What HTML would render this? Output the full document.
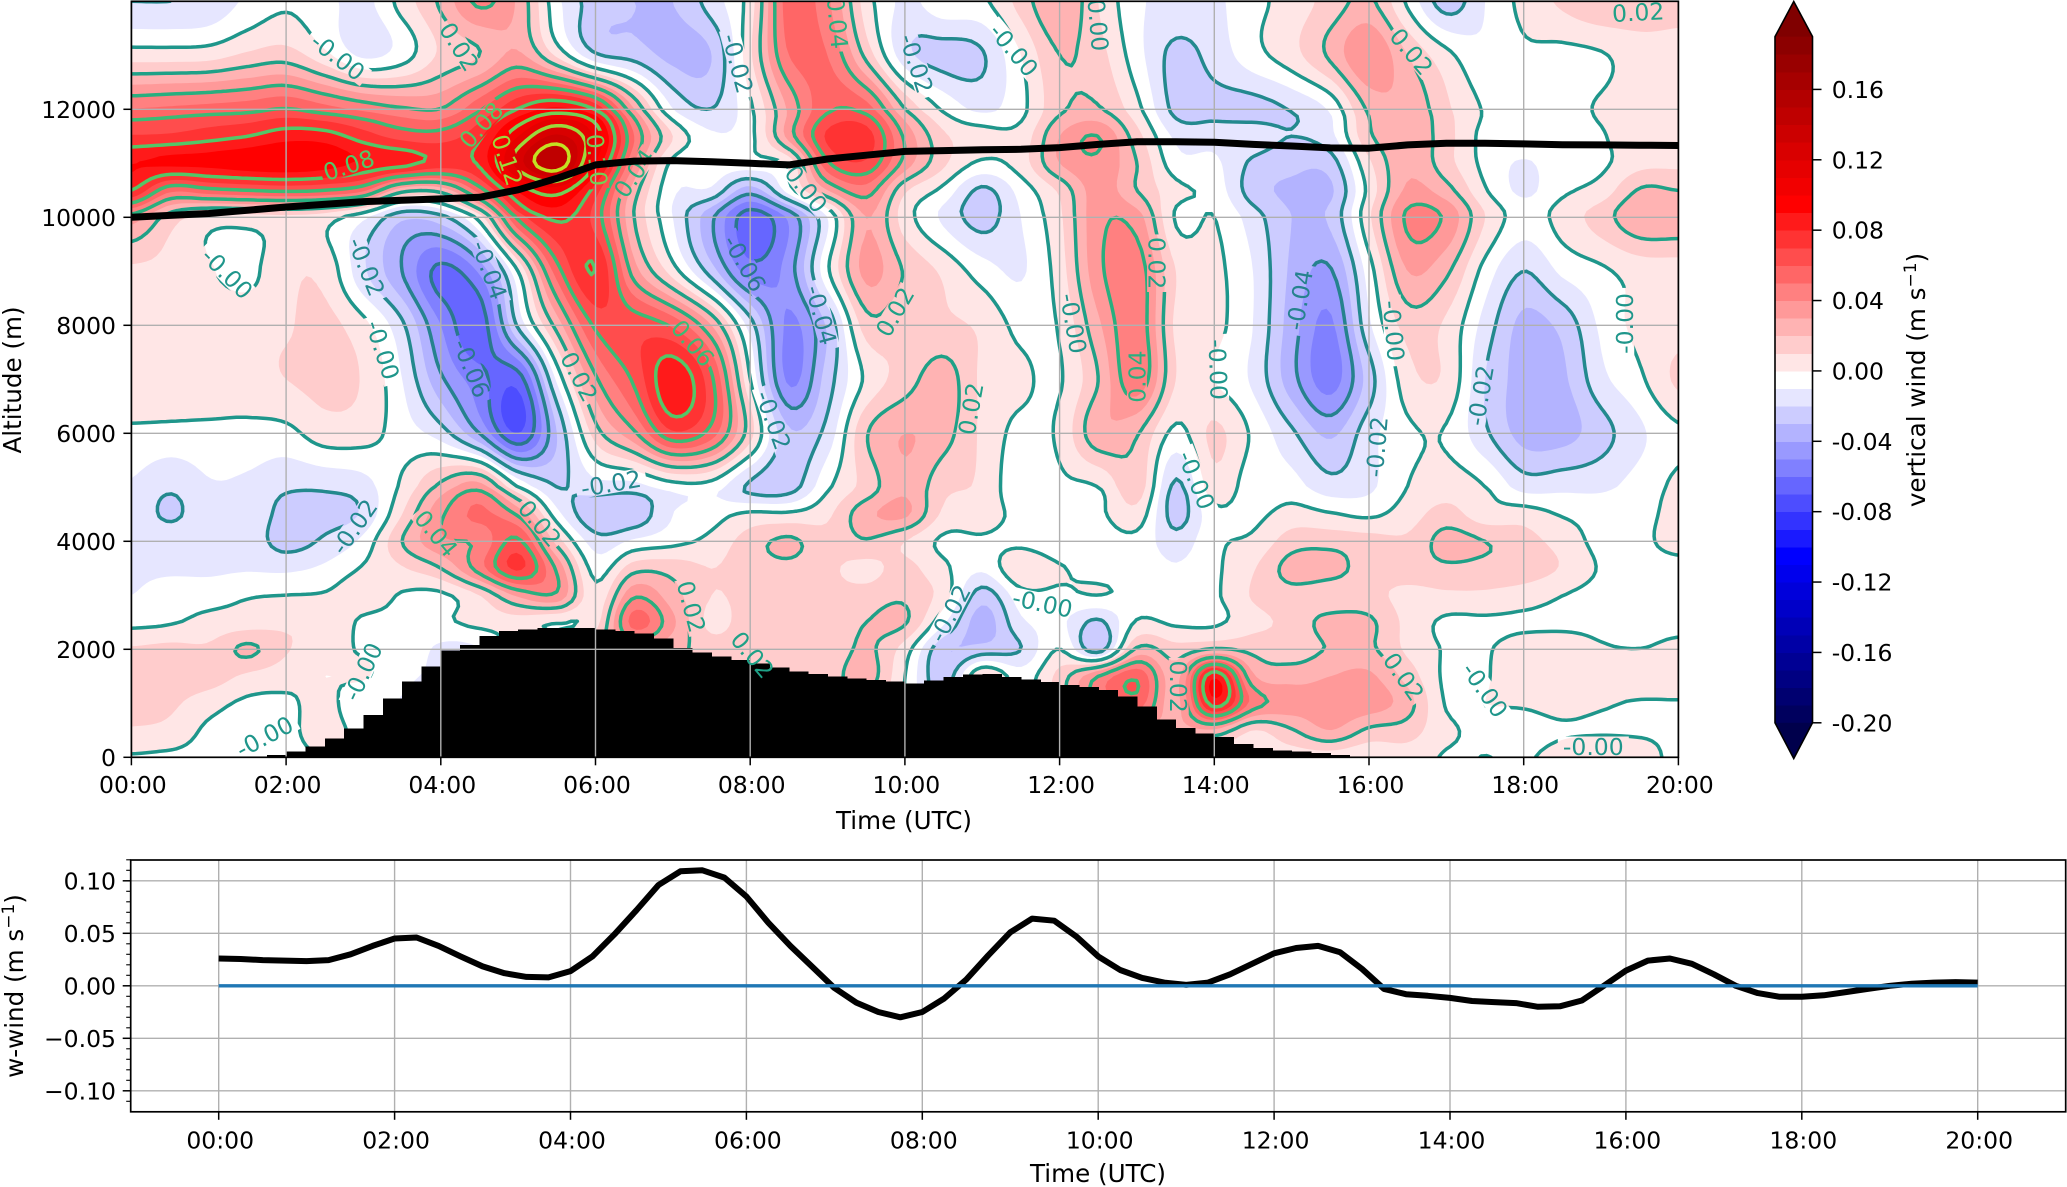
<!DOCTYPE html>
<html lang="en">
<head>
<meta charset="utf-8">
<title>Vertical wind time-height section</title>
<style>
html,body{margin:0;padding:0;background:#fff;}
svg{display:block;}
text{font-family:"DejaVu Sans","Liberation Sans",sans-serif;font-size:23.5px;fill:#000;}
text.axis-title{font-size:24.6px;}
</style>
</head>
<body>
<svg id="figure" xmlns="http://www.w3.org/2000/svg" width="2067" height="1187" viewBox="0 0 2067 1187">
  <defs>
    <clipPath id="main-clip"><rect x="131.4" y="1.3" width="1547" height="756"></rect></clipPath>
    <mask id="label-gaps" maskUnits="userSpaceOnUse" x="0" y="0" width="2067" height="1187">
      <rect x="0" y="0" width="2067" height="1187" fill="#fff"></rect>
      <g id="label-gap-rects"></g>
    </mask>
  </defs>
  <g clip-path="url(#main-clip)">
    <g id="main-fills"></g>
    <g id="main-lines" mask="url(#label-gaps)" fill="none" stroke-width="3.5" stroke-linecap="round"></g>
    <g id="main-terrain" shape-rendering="crispEdges"></g>
    <g id="main-grid"></g>
    <g id="main-labels"></g>
    <path id="flight-path" fill="none" stroke="#000" stroke-width="7" stroke-linejoin="round"></path>
  </g>
  <rect x="131.4" y="1.3" width="1547" height="756" fill="none" stroke="#000" stroke-width="1.7"></rect>
  <g id="main-ticks"></g>
  <text class="axis-title" x="904" y="829" text-anchor="middle">Time (UTC)</text>
  <text class="axis-title" transform="translate(21,380) rotate(-90)" text-anchor="middle">Altitude (m)</text>

  <g id="colorbar"></g>
  <text class="axis-title" transform="translate(1925,380) rotate(-90)" text-anchor="middle">vertical wind (m s<tspan dy="-9" font-size="17">−1</tspan><tspan dy="9">)</tspan></text>

  <g id="lower-grid"></g>
  <path id="lower-series" fill="none" stroke="#000" stroke-width="6" stroke-linejoin="round"></path>
  <path id="lower-zero" fill="none" stroke="#1f77b4" stroke-width="3.3"></path>
  <rect x="130.7" y="860" width="1935" height="251.8" fill="none" stroke="#000" stroke-width="1.7"></rect>
  <g id="lower-ticks"></g>
  <text class="axis-title" x="1098" y="1182" text-anchor="middle">Time (UTC)</text>
  <text class="axis-title" transform="translate(23,986) rotate(-90)" text-anchor="middle">w-wind (m s<tspan dy="-9" font-size="17">−1</tspan><tspan dy="9">)</tspan></text>
</svg>
<script>
// ---------- data ----------
var fieldHours = [0,0.5,1,1.5,2,2.5,3,3.5,4,4.5,5,5.5,6,6.5,7,7.5,8,8.5,9,9.5,10,10.5,11,11.5,12,12.5,13,13.5,14,14.5,15,15.5,16,16.5,17,17.5,18,18.5,19,19.5,20];
var fieldAltitudes = [14000,13000,12000,11500,11000,10500,10000,9000,8000,7000,6000,5000,4500,4000,3500,3000,2500,2000,1500,1000,500,0];
// vertical wind in 0.001 m/s, one row per altitude above
var windRows = [
[-20,-20,-18,-8,-2,-7,-13,4,22,42,28,-7,-25,-30,-30,-15,5,55,42,5,-12,-3,-2,14,30,10,-8,-12,-12,-3,4,14,22,-2,-25,-10,3,12,19,17,14],
[5,5,6,12,15,3,-12,-5,12,20,32,8,-18,-24,-33,-30,8,50,50,17,-16,-24,-21,0,20,14,-6,-23,-16,-4,6,22,40,20,3,-8,-2,-3,-1,5,6],
[50,52,54,56,60,54,47,41,40,58,80,92,78,30,-10,-20,-2,32,58,55,20,-2,-12,-3,18,21,3,-23,-23,-24,-19,-8,22,28,12,-1,-3,-3,1,6,7],
[71,72,76,80,86,85,75,66,65,78,110,132,108,50,10,-8,-3,34,72,75,38,12,5,4,30,40,14,-12,-14,-14,-20,-13,18,28,14,-3,-3,-3,-1,7,8],
[90,92,93,96,98,95,88,84,76,82,125,148,100,40,-3,-5,-4,3,58,68,36,12,-2,5,30,38,20,-6,-8,-22,-27,-25,8,28,14,-3,-11,-4,-2,7,8],
[80,53,57,60,62,60,52,24,24,55,92,105,75,25,-8,-12,-35,-5,30,45,12,-3,-22,-6,12,35,20,3,-4,-25,-32,-32,3,32,24,1,-12,-2,4,21,20],
[35,15,5,5,7,4,-8,-28,-24,4,62,82,66,20,-10,-38,-66,-48,-10,30,5,-12,-24,-10,8,37,35,-1,0,-15,-30,-28,8,42,38,10,-5,4,15,28,28],
[8,7,1,-3,8,7,-18,-40,-63,-48,0,55,80,35,5,-25,-55,-45,-2,33,19,8,-5,-11,5,37,46,10,3,-10,-32,-41,-5,30,22,-4,-20,-8,-2,4,5],
[10,8,8,7,9,13,3,-18,-50,-66,-18,24,62,66,58,30,-15,-52,-28,15,12,12,8,-3,1,28,47,8,3,-10,-35,-52,-12,14,8,-14,-33,-27,-8,3,6],
[8,8,8,6,10,13,9,-10,-38,-56,-65,-8,38,62,88,62,0,-52,-25,2,15,25,8,2,-1,20,47,10,0,-12,-36,-55,-25,6,8,-20,-34,-32,-13,-2,12],
[-2,-3,-3,-3,-3,5,4,-5,-15,-40,-70,-30,15,38,68,55,14,-28,-16,19,30,24,8,-3,2,27,21,-3,12,-2,-18,-32,-14,-2,-1,-18,-34,-34,-24,-12,-2],
[-11,-18,-11,-12,-18,-18,-14,2,23,35,0,-20,-14,-14,-5,-5,-22,-25,-2,14,28,13,8,-8,-2,0,16,-22,6,-6,-6,-16,-12,0,5,0,-14,-13,-12,-6,2],
[-12,-22,-12,-12,-24,-24,-18,10,38,52,38,-6,-28,-27,-10,-4,2,2,8,27,32,8,5,-3,-2,-2,6,-24,-3,-3,4,1,-2,5,14,4,5,-1,-4,-3,3],
[-12,-12,-12,-14,-24,-18,-7,20,38,42,62,16,-15,-8,-3,3,15,22,13,19,10,-2,-2,-3,-8,-5,-3,-16,-2,2,15,16,14,12,24,20,14,6,-3,-2,3],
[-12,-12,-12,-11,-12,-8,1,9,20,45,72,38,-4,16,16,10,15,17,12,7,13,2,-8,9,1,-4,-3,-9,-2,9,24,25,14,15,18,17,16,9,-1,-3,-3],
[-10,-4,-4,-1,0,1,6,-1,-2,10,32,38,3,38,24,10,13,11,12,14,18,5,-25,-4,-2,0,-3,-9,-2,11,16,12,13,7,8,8,5,0,-3,-3,-3],
[-3,-1,3,5,8,9,-2,-2,-2,3,5,0,6,54,32,7,16,15,12,20,21,-8,-35,-12,-8,-22,1,-2,-2,7,13,24,22,7,-2,-2,-2,-2,-2,-2,-2],
[11,13,12,22,11,4,-1,-2,-12,-10,5,10,20,30,24,15,17,15,12,22,5,-28,-26,-20,0,-25,22,14,21,17,14,21,22,8,-1,-1,5,5,1,0,2],
[12,15,15,8,4,0,1,-8,-10,0,5,10,20,20,20,15,15,15,15,25,0,-26,10,-5,14,40,58,26,88,32,26,30,32,16,-2,-1,8,8,7,7,8],
[14,12,4,-2,-2,3,-8,-10,-10,0,5,10,15,15,15,15,15,15,15,15,0,-20,5,-5,14,40,55,26,85,46,36,36,36,24,-1,0,1,3,1,-1,-1],
[9,7,-2,-3,-2,3,-3,-5,-5,0,5,5,5,5,5,5,5,5,5,5,0,-5,0,0,5,20,25,25,28,10,19,30,18,15,2,-2,-3,-1,-1,-1,-1],
[-1,-2,-3,-3,-2,0,0,0,0,0,0,0,0,0,0,0,0,0,0,0,0,0,0,0,0,0,0,0,0,5,5,5,2,5,-1,0,-1,3,6,3,-2]
];
var contourLevels = [-0.06,-0.04,-0.02,0,0.02,0.04,0.06,0.08,0.10,0.12,0.14];
// terrain height (m) for each quarter hour from 00:00
var terrainHeights = [0,0,0,0,0,0,0,40,105,197,352,537,784,1093,1401,1679,1975,2080,2247,2340,2370,2390,2390,2390,2370,2340,2290,2200,2020,1940,1870,1800,1740,1660,1590,1540,1500,1460,1430,1400,1370,1420,1490,1530,1540,1490,1445,1390,1340,1300,1250,1130,940,700,540,440,380,250,170,130,105,80,45,15,0];
var flightHours = [0,1,2,3,4,4.5,5,5.5,6,6.5,7,7.5,8,8.5,9,9.5,10,10.5,11,11.5,12,12.5,13,13.5,14,14.5,15,15.5,16,16.5,17,17.5,18,18.5,19,19.5,20];
var flightAltitudes = [10000,10070,10190,10290,10340,10370,10510,10720,10970,11040,11050,11030,11000,10970,11080,11150,11220,11235,11250,11260,11290,11350,11400,11400,11390,11350,11320,11285,11280,11340,11370,11370,11360,11345,11340,11335,11330];
// quarter-hourly w-wind for the lower panel
var lowerWind = [0.026,0.0255,0.0245,0.024,0.0235,0.0245,0.030,0.038,0.045,0.046,0.038,0.028,0.0185,0.012,0.0085,0.008,0.014,0.028,0.049,0.072,0.096,0.109,0.110,0.103,0.085,0.060,0.038,0.018,-0.002,-0.016,-0.025,-0.030,-0.025,-0.012,0.006,0.029,0.051,0.064,0.062,0.047,0.028,0.015,0.0075,0.003,0.001,0.003,0.011,0.021,0.031,0.036,0.038,0.032,0.016,-0.003,-0.008,-0.0095,-0.0115,-0.0145,-0.0155,-0.0165,-0.020,-0.0195,-0.014,0,0.0145,0.024,0.026,0.021,0.011,0,-0.007,-0.0105,-0.0105,-0.009,-0.006,-0.003,0,0.002,0.003,0.0035,0.003];
var timeTicks = ["00:00","02:00","04:00","06:00","08:00","10:00","12:00","14:00","16:00","18:00","20:00"];
var altitudeTicks = [0,2000,4000,6000,8000,10000,12000];
var colorbarTicks = ["0.16","0.12","0.08","0.04","0.00","-0.04","-0.08","-0.12","-0.16","-0.20"];
var lowerYTicks = ["0.10","0.05","0.00","−0.05","−0.10"];
// contour labels: hour, altitude, text
var labelHours =  [2.67,4.24,1.24,3.04,4.63,3.25,4.40,5.79,2.81,4.52,4.86,6.02,6.50,2.88,3.94,5.28,6.20,1.72,2.99,7.84,10.15,9.13,11.41,12.5,8.69,7.93,8.92,7.26,9.87,13.26,12.18,13.0,14.05,8.3,7.24,10.85,13.77,10.58,11.78,8.03,13.54,16.55,15.1,16.32,19.3,19.48,17.44,16.1,16.45,17.5,18.9];
var labelAlts =   [12975,13160,8963,9086,9025,7543,7204,7050,10969,11710,11062,11062,10815,4272,4148,4333,5074,383,1586,12850,12850,13600,13100,13560,10590,9150,8190,7670,8250,9150,8035,7050,7180,6245,2790,6455,5135,2667,2852,1900,1309,13070,8470,7900,8035,13800,6700,5750,1494,1250,200];
var labelTexts =  ["-0.00","0.02","-0.00","-0.02","-0.04","-0.00","-0.06","0.02","0.08","0.08","0.12","0.10","0.04","-0.02","0.04","0.02","-0.02","-0.00","-0.00","-0.02","-0.02","0.04","-0.00","0.00","-0.00","-0.06","-0.04","0.06","0.02","0.02","-0.00","0.04","-0.00","-0.02","0.02","0.02","-0.00","-0.02","-0.00","0.02","0.02","0.02","-0.04","-0.00","-0.00","0.02","-0.02","-0.02","0.02","-0.00","-0.00"];
var labelAngles = [38,58,45,68,70,72,68,62,-18,-48,72,85,-55,-55,50,50,-10,-28,-65,75,72,85,50,85,52,60,75,50,-60,90,80,-90,88,70,75,-80,68,-62,12,50,90,50,-80,85,-90,-3,-80,-85,55,55,0];

// ---------- axis functions ----------
var SVGNS = "http://www.w3.org/2000/svg";
function xMain(h){return 131.4+h*77.35;}
function yMain(a){return 757.3-a*0.054;}
function xLow(h){return 218.7+h*87.95;}
function yLow(v){return 985.8-v*1050;}
function yBar(v){return 722.8-(v+0.20)*1759.4;}
function mk(tag,parent,attrs,text){
  var e=document.createElementNS(SVGNS,tag);
  for(var k in attrs){e.setAttribute(k,attrs[k]);}
  if(text!==undefined){e.textContent=text;}
  parent.appendChild(e);
  return e;
}
function $(id){return document.getElementById(id);}

// ---------- interpolation onto a fine grid ----------
function cr(p0,p1,p2,p3,t){
  return 0.5*((2*p1)+(-p0+p2)*t+(2*p0-5*p1+4*p2-p3)*t*t+(-p0+3*p1-3*p2+p3)*t*t*t);
}
function altIndex(a){
  for(var i=0;i<fieldAltitudes.length-1;i++){
    if(a>=fieldAltitudes[i+1]){
      return i+(fieldAltitudes[i]-a)/(fieldAltitudes[i]-fieldAltitudes[i+1]);
    }
  }
  return fieldAltitudes.length-1;
}
function colAt(row,fx){
  var n=row.length,i=Math.min(Math.floor(fx),n-2),t=fx-i;
  return cr(row[Math.max(i-1,0)],row[i],row[i+1],row[Math.min(i+2,n-1)],t);
}
var STEP=5,nx=Math.ceil(1547/STEP)+1,ny=Math.ceil(756/STEP)+1,grid=[],gx=[],gy=[];
(function(){
  var ix,iy;
  for(ix=0;ix<nx;ix++){gx.push(131.4+Math.min(ix*STEP,1547));}
  for(iy=0;iy<ny;iy++){gy.push(1.3+Math.min(iy*STEP,756));}
  var hStep=fieldHours[1]-fieldHours[0];
  for(iy=0;iy<ny;iy++){
    var a=(757.3-gy[iy])/0.054,f=altIndex(a),m=fieldAltitudes.length;
    var i=Math.min(Math.floor(f),m-2),t=f-i;
    var r0=windRows[Math.max(i-1,0)],r1=windRows[i],r2=windRows[i+1],r3=windRows[Math.min(i+2,m-1)];
    var line=[];
    for(ix=0;ix<nx;ix++){
      var h=(gx[ix]-131.4)/77.35,fx=Math.min(h/hStep,fieldHours.length-1);
      line.push(cr(colAt(r0,fx),colAt(r1,fx),colAt(r2,fx),colAt(r3,fx),t)/1000);
    }
    grid.push(line);
  }
})();

// ---------- colours ----------
function bandColor(k){ // band [k,k+1)*0.01
  var n,c;
  if(k>=0){
    n=k+1;
    if(n<=10){c=Math.round(255-25.5*n);return "rgb(255,"+c+","+c+")";}
    return "rgb("+Math.round(255-12.75*(n-10))+",0,0)";
  }
  n=-k-1;
  if(n===0){return "rgb(255,255,255)";}
  if(n<=10){c=Math.round(255-25.5*n);return "rgb("+c+","+c+",255)";}
  return "rgb(0,0,"+Math.round(255-17.9*(n-10))+")";
}
function lineColor(v){
  var lv=Math.round(v*100);
  if(lv<=-6){return "#2a788e";}
  if(lv===-4){return "#26828e";}
  if(lv===-2){return "#23898e";}
  if(lv===0){return "#1f968b";}
  if(lv===2){return "#1fa187";}
  if(lv===4){return "#29af7f";}
  if(lv===6){return "#3cbb75";}
  if(lv===8){return "#55c667";}
  if(lv===10){return "#73d055";}
  if(lv===12){return "#9bd93c";}
  return "#c4e022";
}

// ---------- marching squares ----------
function regionPath(level,sign){
  var out=[],iy,ix;
  function ins(v){return sign*(v-level)>=0;}
  for(iy=0;iy<ny-1;iy++){
    var x0=gx,runStart=-1,ya=gy[iy],yb=gy[iy+1];
    for(ix=0;ix<nx-1;ix++){
      var a=grid[iy][ix],b=grid[iy][ix+1],c=grid[iy+1][ix+1],d=grid[iy+1][ix];
      var ia=ins(a),ib=ins(b),ic=ins(c),id=ins(d);
      if(ia&&ib&&ic&&id){
        if(runStart<0){runStart=ix;}
        continue;
      }
      if(runStart>=0){
        out.push("M"+x0[runStart].toFixed(1)+" "+ya.toFixed(1)+"H"+x0[ix].toFixed(1)+"V"+yb.toFixed(1)+"H"+x0[runStart].toFixed(1)+"Z");
        runStart=-1;
      }
      if(!ia&&!ib&&!ic&&!id){continue;}
      var xa=x0[ix],xb=x0[ix+1];
      var pts=[[xa,ya,a,ia],[xb,ya,b,ib],[xb,yb,c,ic],[xa,yb,d,id]],poly=[];
      for(var q=0;q<4;q++){
        var p=pts[q],r=pts[(q+1)%4];
        if(p[3]){poly.push(p[0].toFixed(1)+" "+p[1].toFixed(1));}
        if(p[3]!==r[3]){
          var t=(level-p[2])/(r[2]-p[2]);
          poly.push((p[0]+(r[0]-p[0])*t).toFixed(1)+" "+(p[1]+(r[1]-p[1])*t).toFixed(1));
        }
      }
      out.push("M"+poly.join("L")+"Z");
    }
    if(runStart>=0){
      out.push("M"+x0[runStart].toFixed(1)+" "+ya.toFixed(1)+"H"+x0[nx-1].toFixed(1)+"V"+yb.toFixed(1)+"H"+x0[runStart].toFixed(1)+"Z");
    }
  }
  return out.join("");
}
function linePath(level){
  var out=[],iy,ix;
  for(iy=0;iy<ny-1;iy++){
    for(ix=0;ix<nx-1;ix++){
      var a=grid[iy][ix],b=grid[iy][ix+1],c=grid[iy+1][ix+1],d=grid[iy+1][ix];
      var ia=a>=level,ib=b>=level,ic=c>=level,id=d>=level;
      if(ia===ib&&ib===ic&&ic===id){continue;}
      var xa=gx[ix],xb=gx[ix+1],ya=gy[iy],yb=gy[iy+1],cr_=[];
      if(ia!==ib){cr_.push([xa+(xb-xa)*(level-a)/(b-a),ya]);}
      if(ib!==ic){cr_.push([xb,ya+(yb-ya)*(level-b)/(c-b)]);}
      if(ic!==id){cr_.push([xb+(xa-xb)*(level-c)/(d-c),yb]);}
      if(id!==ia){cr_.push([xa,yb+(ya-yb)*(level-d)/(a-d)]);}
      for(var s=0;s+1<cr_.length;s+=2){
        out.push("M"+cr_[s][0].toFixed(1)+" "+cr_[s][1].toFixed(1)+"L"+cr_[s+1][0].toFixed(1)+" "+cr_[s+1][1].toFixed(1));
      }
    }
  }
  return out.join("");
}

// ---------- filled contours ----------
(function(){
  var g=$("main-fills"),k,d,node;
  for(k=0;k<=18;k++){
    d=regionPath(k*0.01,1);
    if(!d){continue;}
    node=mk("path",g,{d:d,fill:bandColor(k)});
    
    
  }
  for(k=1;k<=19;k++){
    d=regionPath(-k*0.01,-1);
    if(!d){continue;}
    node=mk("path",g,{d:d,fill:bandColor(-k-1)});
    
    
  }
  var lg=$("main-lines");
  contourLevels.forEach(function(lv){
    var dl=linePath(lv+(lv===0?-0.0001:0));
    if(!dl){return;}
    var n=mk("path",lg,{d:dl,stroke:lineColor(lv)});
    
    
  });
})();

// ---------- terrain ----------
terrainHeights.forEach(function(hgt,i){
  if(hgt<=0){return;}
  var h0=i*0.25;
  var r=mk("rect",$("main-terrain"),{x:xMain(h0),y:yMain(hgt),width:xMain(h0+0.25)-xMain(h0)+0.5,height:yMain(0)-yMain(hgt),fill:"#000"});
  
  
});

// ---------- main grid & ticks ----------
timeTicks.forEach(function(lab,i){
  var x=xMain(i*2);
  var gl=mk("line",$("main-grid"),{x1:x,x2:x,y1:1.3,y2:757.3,stroke:"#b0b0b0","stroke-width":1.4});
  
  
  var tk=mk("line",$("main-ticks"),{x1:x,x2:x,y1:757.3,y2:765.3,stroke:"#000","stroke-width":1.5});
  
  
  var tx=mk("text",$("main-ticks"),{x:x+1.5,y:793,"text-anchor":"middle"},lab);
  
  
});
altitudeTicks.forEach(function(a){
  var y=yMain(a);
  var gl=mk("line",$("main-grid"),{x1:131.4,x2:1678.4,y1:y,y2:y,stroke:"#b0b0b0","stroke-width":1.4});
  
  
  var tk=mk("line",$("main-ticks"),{x1:123.4,x2:131.4,y1:y,y2:y,stroke:"#000","stroke-width":1.5});
  
  
  var tx=mk("text",$("main-ticks"),{x:116,y:y+8.5,"text-anchor":"end"},String(a));
  
  
});

// ---------- contour labels ----------
labelTexts.forEach(function(txt,i){
  var x=xMain(labelHours[i]),y=yMain(labelAlts[i]),ang=labelAngles[i];
  var w=txt.length*13.4+4;
  mk("rect",$("label-gap-rects"),{x:x-w/2,y:y-10,width:w,height:20,fill:"#000",transform:"rotate("+ang+" "+x+" "+y+")"});
  var t=mk("text",$("main-labels"),{x:x,y:y+8.5,"text-anchor":"middle",transform:"rotate("+ang+" "+x+" "+y+")",style:"fill:"+lineColor(parseFloat(txt))},txt);
  
  
});

// ---------- flight line ----------
$("flight-path").setAttribute("d",flightHours.map(function(h,i){
  return (i?"L":"M")+xMain(h).toFixed(1)+" "+yMain(flightAltitudes[i]).toFixed(1);
}).join(""));

// ---------- colorbar ----------
(function(){
  var g=$("colorbar"),L=1775,R=1812.5,k,node;
  for(k=-20;k<19;k++){
    node=mk("rect",g,{x:L,y:yBar((k+1)*0.01),width:R-L,height:yBar(k*0.01)-yBar((k+1)*0.01)+0.5,fill:bandColor(k),"shape-rendering":"crispEdges"});
    
    
  }
  var top=yBar(0.19),bot=yBar(-0.20),mid=(L+R)/2;
  node=mk("path",g,{d:"M"+L+" "+top+"L"+mid+" 1.5L"+R+" "+top+"Z",fill:"#800000"});
  
  
  node=mk("path",g,{d:"M"+L+" "+bot+"L"+mid+" 758.5L"+R+" "+bot+"Z",fill:"#00004c"});
  
  
  node=mk("path",g,{d:"M"+L+" "+top+"L"+mid+" 1.5L"+R+" "+top+"V"+bot+"L"+mid+" 758.5L"+L+" "+bot+"Z",fill:"none",stroke:"#000","stroke-width":1.6});
  
  
  colorbarTicks.forEach(function(lab){
    var y=yBar(parseFloat(lab));
    var tk=mk("line",g,{x1:R,x2:R+9,y1:y,y2:y,stroke:"#000","stroke-width":1.5});
    
    
    var tx=mk("text",g,{x:1831.7,y:y+8.5},lab);
    
    
  });
})();

// ---------- lower panel ----------
timeTicks.forEach(function(lab,i){
  var x=xLow(i*2);
  var gl=mk("line",$("lower-grid"),{x1:x,x2:x,y1:860,y2:1111.8,stroke:"#b0b0b0","stroke-width":1.4});
  
  
  var tk=mk("line",$("lower-ticks"),{x1:x,x2:x,y1:1111.8,y2:1119.8,stroke:"#000","stroke-width":1.5});
  
  
  var tx=mk("text",$("lower-ticks"),{x:x+1.5,y:1148.5,"text-anchor":"middle"},lab);
  
  
});
lowerYTicks.forEach(function(lab){
  var v=parseFloat(lab.replace("−","-")),y=yLow(v);
  var gl=mk("line",$("lower-grid"),{x1:130.7,x2:2065.7,y1:y,y2:y,stroke:"#b0b0b0","stroke-width":1.4});
  
  
  var tk=mk("line",$("lower-ticks"),{x1:122.7,x2:130.7,y1:y,y2:y,stroke:"#000","stroke-width":1.5});
  
  
  var tx=mk("text",$("lower-ticks"),{x:116,y:y+8.5,"text-anchor":"end"},lab);
  
  
});
for(var mv=-11;mv<=12;mv++){
  if(mv%5===0){continue;}
  var my=yLow(mv*0.01);
  var mt=mk("line",$("lower-ticks"),{x1:126.2,x2:130.7,y1:my,y2:my,stroke:"#000","stroke-width":1.1});
  
  
}
$("lower-series").setAttribute("d",lowerWind.map(function(v,i){
  return (i?"L":"M")+xLow(i*0.25).toFixed(1)+" "+yLow(v).toFixed(1);
}).join(""));
$("lower-zero").setAttribute("d","M"+xLow(0)+" "+yLow(0)+"L"+xLow(20)+" "+yLow(0));
</script>
</body>
</html>
